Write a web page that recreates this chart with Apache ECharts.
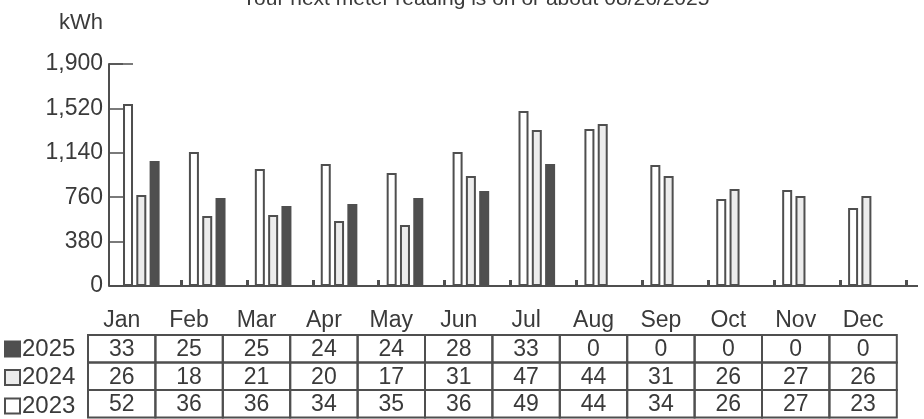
<!DOCTYPE html>
<html>
<head>
<meta charset="utf-8">
<script src="https://cdn.jsdelivr.net/npm/echarts@6/dist/echarts.min.js"></script>
<style>
  html, body { margin: 0; padding: 0; background: #fff; }
  #chart { width: 924px; height: 419px; }
</style>
</head>
<body>
<div id="chart"></div>
<script>
// monthly usage, kWh
var months = ['Jan', 'Feb', 'Mar', 'Apr', 'May', 'Jun', 'Jul', 'Aug', 'Sep', 'Oct', 'Nov', 'Dec'];
var kwh2023 = [1558, 1147, 1001, 1044, 967, 1147, 1498, 1344, 1036, 745, 822, 668];
var kwh2024 = [779, 599, 608, 556, 522, 942, 1335, 1387, 942, 830, 770, 770];
var kwh2025 = [1070, 753, 685, 702, 753, 813, 1044, null, null, null, null, null];
var yTicks = [0, 380, 760, 1140, 1520, 1900];

// table below the chart
var tableYears = ['2025', '2024', '2023'];
var row2025 = [33, 25, 25, 24, 24, 28, 33, 0, 0, 0, 0, 0];
var row2024 = [26, 18, 21, 20, 17, 31, 47, 44, 31, 26, 27, 26];
var row2023 = [52, 36, 36, 34, 35, 36, 49, 44, 34, 26, 27, 23];

(function () {
  var ink = '#3a3a3a';
  var dark = '#4f4f4f';
  var font = 'Liberation Sans, Arial, sans-serif';

  var el = document.getElementById('chart');
  var chart = echarts.init(el, null, { renderer: 'canvas' });

  // --- table: month header + three rows of numbers ---
  var tblLeft = 88, colW = 67.4, tblTop = 335, rowH = 27.5, headY = 321;
  var rows = [row2025, row2024, row2023];
  var graphics = [];
  months.forEach(function (m, c) {
    graphics.push({
      type: 'text',
      x: tblLeft + colW * (c + 0.5), y: headY,
      style: { text: m, fill: ink, font: '23px ' + font, align: 'center', verticalAlign: 'middle' }
    });
  });
  rows.forEach(function (row, r) {
    row.forEach(function (v, c) {
      graphics.push({
        type: 'rect',
        shape: { x: tblLeft + colW * c, y: tblTop + rowH * r, width: colW, height: rowH },
        style: { fill: 'none', stroke: dark, lineWidth: 2 }
      });
      graphics.push({
        type: 'text',
        x: tblLeft + colW * (c + 0.5), y: tblTop + rowH * (r + 0.5) + 1,
        style: { text: String(v), fill: ink, font: '23px ' + font, align: 'center', verticalAlign: 'middle' }
      });
    });
  });
  // baseline runs a bit past both ends of the month bands
  graphics.push({
    type: 'line',
    shape: { x1: 109, y1: 286, x2: 918, y2: 286 },
    style: { stroke: dark, lineWidth: 2 }
  });
  // longer cap tick at the top of the kWh axis
  graphics.push({
    type: 'line',
    shape: { x1: 109, y1: 64, x2: 133, y2: 64 },
    style: { stroke: dark, lineWidth: 1.5 }
  });

  function barStyle(fill) {
    return { color: fill, borderColor: dark, borderWidth: 2 };
  }

  chart.setOption({
    animation: false,
    textStyle: { fontFamily: font, color: ink },
    title: {
      text: 'Your next meter reading is on or about 08/26/2025',
      left: 242, top: -11, padding: 0,
      textStyle: { fontSize: 21, fontWeight: 'normal', color: ink, fontFamily: font }
    },
    legend: {
      orient: 'vertical', left: 4, top: 337, padding: 0,
      data: tableYears,
      icon: 'rect', itemWidth: 15, itemHeight: 15, itemGap: 4.5,
      itemStyle: { borderWidth: 2 },
      textStyle: { fontSize: 24, lineHeight: 23, color: ink, fontFamily: font, padding: [0, 0, 0, -3] }
    },
    grid: { left: 115, right: 18, top: 64, bottom: 133, containLabel: false, outerBoundsMode: 'none' },
    xAxis: {
      type: 'category',
      data: months,
      axisLine: { lineStyle: { color: dark, width: 2 } },
      axisTick: {
        show: true, inside: true, length: 6,
        interval: function (i) { return i > 0; },
        lineStyle: { color: dark, width: 3 }
      },
      axisLabel: { show: false },
      splitLine: { show: false }
    },
    yAxis: {
      type: 'value',
      min: yTicks[0], max: yTicks[yTicks.length - 1], interval: yTicks[1] - yTicks[0],
      offset: 6,
      name: 'kWh',
      nameLocation: 'end', nameGap: 30,
      nameTextStyle: { fontSize: 22, color: ink, align: 'right', padding: [0, 6, 0, 0] },
      axisLine: { show: true, lineStyle: { color: dark, width: 2 } },
      axisTick: { show: true, inside: true, length: 14, lineStyle: { color: dark, width: 1.5 } },
      axisLabel: {
        fontSize: 23, color: ink, margin: 6,
        formatter: function (v) { return v.toLocaleString('en-US'); }
      },
      splitLine: { show: false }
    },
    series: [
      { name: '2023', type: 'bar', barWidth: 10, barGap: '33%', itemStyle: barStyle('#ffffff'), data: kwh2023 },
      { name: '2024', type: 'bar', barWidth: 10, barGap: '33%', itemStyle: barStyle('#ececec'), data: kwh2024 },
      { name: '2025', type: 'bar', barWidth: 10, barGap: '33%', itemStyle: barStyle(dark), data: kwh2025 },
      // empty fourth slot in each month group
      { name: 'pad', type: 'bar', barWidth: 10, barGap: '33%', silent: true, data: [] }
    ],
    graphic: graphics
  });
})();
</script>
</body>
</html>
